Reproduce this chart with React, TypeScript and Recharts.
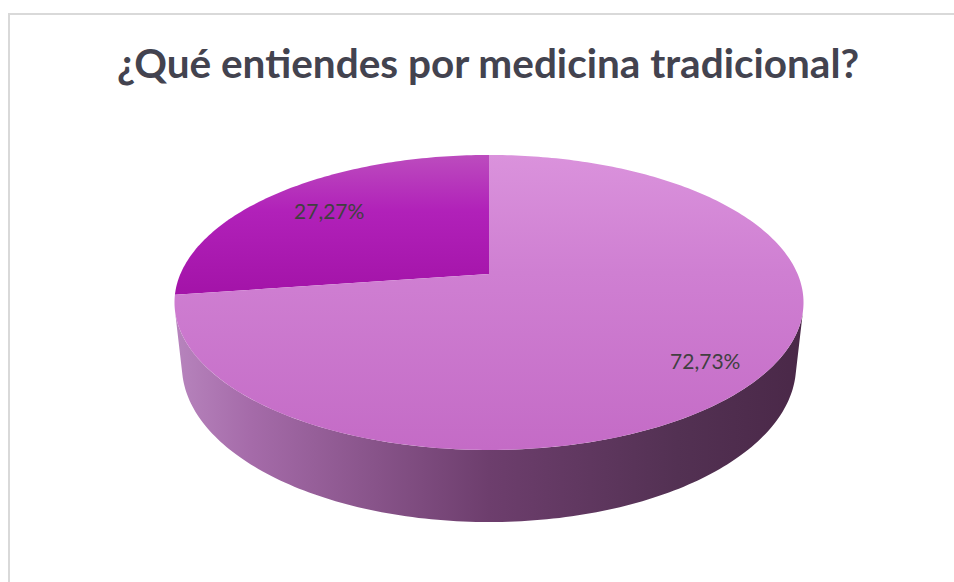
import { PieChart, Pie } from 'recharts';

const categories = ['Opción 1', 'Opción 2'];
const values = [27.27, 72.73];
const title = '¿Qué entiendes por medicina tradicional?';

const data = categories.map((name, i) => ({ name, value: values[i] }));

// simple perspective camera for the 3D look
const DIST = 4.6;
const TILT = (27.4 * Math.PI) / 180;
const DEPTH = 0.2334;
const RAD = Math.PI / 180;

const project = (cx: number, cy: number, r: number, u: number, v: number, z: number) => {
    const d = DIST + v * Math.cos(TILT) - z * Math.sin(TILT);
    const x = (r * DIST * u) / d;
    const y = (r * DIST * (v * Math.sin(TILT) + z * Math.cos(TILT))) / d;
    return [cx + x, cy - y];
};

const rimPoint = (cx: number, cy: number, r: number, deg: number, z: number, f = 1) =>
    project(cx, cy, r, f * Math.cos(deg * RAD), f * Math.sin(deg * RAD), z);

const topFill = [
    ['#bc4cbe', '#b121b9', '#a313a8'],
    ['#da92dc', '#cf7fd2', '#c46bc6'],
];

const fmt = (p: number[]) => `${p[0].toFixed(2)},${p[1].toFixed(2)}`;

const Slice3D = (props: any) => {
    const { cx, cy, outerRadius, startAngle, endAngle, name } = props;
    const idx = categories.indexOf(name);
    const a = Math.min(startAngle, endAngle);
    const b = Math.max(startAngle, endAngle);

    // top face
    const pts: string[] = [fmt([cx, cy])];
    const steps = Math.max(2, Math.ceil(b - a));
    for (let i = 0; i <= steps; i++) {
        pts.push(fmt(rimPoint(cx, cy, outerRadius, a + ((b - a) * i) / steps, 0)));
    }

    // visible side (front facing part of the rim)
    const lim = Math.asin(1 / (DIST * Math.cos(TILT))) / RAD;
    const sides: string[] = [];
    for (const off of [-360, 0, 360]) {
        const s = Math.max(a, 180 + lim + off);
        const e = Math.min(b, 360 - lim + off);
        if (e <= s) continue;
        const n = Math.max(2, Math.ceil(e - s));
        const top: string[] = [];
        const bot: string[] = [];
        for (let i = 0; i <= n; i++) {
            const deg = s + ((e - s) * i) / n;
            top.push(fmt(rimPoint(cx, cy, outerRadius, deg, 0)));
            bot.unshift(fmt(rimPoint(cx, cy, outerRadius, deg, -DEPTH)));
        }
        sides.push(`M${top.join('L')}L${bot.join('L')}Z`);
    }

    const colors = topFill[idx] || topFill[1];
    return (
        <g>
            <defs>
                <linearGradient id={`top-${idx}`} x1="0" y1="0" x2="0" y2="1">
                    <stop offset="0" stopColor={colors[0]} />
                    <stop offset="0.4" stopColor={colors[1]} />
                    <stop offset="1" stopColor={colors[2]} />
                </linearGradient>
                <linearGradient id={`side-${idx}`} x1="0" y1="0" x2="1" y2="0">
                    <stop offset="0" stopColor="#b784bd" />
                    <stop offset="0.12" stopColor="#a56ba9" />
                    <stop offset="0.5" stopColor="#6d3e6d" />
                    <stop offset="0.8" stopColor="#533153" />
                    <stop offset="1" stopColor="#4a2848" />
                </linearGradient>
            </defs>
            {sides.map((d, i) => (
                <path key={i} d={d} fill={`url(#side-${idx})`} />
            ))}
            <path d={`M${pts.join('L')}Z`} fill={`url(#top-${idx})`} />
        </g>
    );
};

const renderLabel = (props: any) => {
    const { cx, cy, outerRadius, startAngle, endAngle, value, index } = props;
    const mid = (startAngle + endAngle) / 2;
    const f = index === 0 ? 0.75 : 0.83;
    const [x, y] = rimPoint(cx, cy, outerRadius, mid, 0, f);
    return (
        <text
            x={x}
            y={y}
            textAnchor="middle"
            dominantBaseline="central"
            fill="#404040"
            fontSize={21}
            fontFamily="Lato, sans-serif"
        >
            {`${Number(value).toFixed(2).replace('.', ',')}%`}
        </text>
    );
};

export default function App() {
    return (
        <div style={{ position: 'absolute', left: 0, top: 0, width: 954, height: 582, background: '#fff', overflow: 'hidden' }}>
            <div
                style={{
                    position: 'absolute',
                    left: 8,
                    top: 13,
                    width: 980,
                    height: 620,
                    border: '2px solid #d9d9d9',
                    boxSizing: 'border-box',
                }}
            />
            <div
                style={{
                    position: 'absolute',
                    left: 0,
                    top: 38,
                    width: 976,
                    textAlign: 'center',
                    fontFamily: 'Lato, sans-serif',
                    fontWeight: 700,
                    fontSize: 40.5,
                    lineHeight: '50px',
                    color: '#43434f',
                }}
            >
                {title}
            </div>
            <div style={{ position: 'absolute', left: 0, top: 0 }}>
                <PieChart width={954} height={582} margin={{ top: 0, right: 0, bottom: 0, left: 0 }}>
                    <Pie
                        data={data}
                        dataKey="value"
                        nameKey="name"
                        cx={489}
                        cy={274}
                        outerRadius={308.6}
                        startAngle={90}
                        endAngle={450}
                        stroke="none"
                        shape={Slice3D}
                        label={renderLabel}
                        labelLine={false}
                        isAnimationActive={false}
                    />
                </PieChart>
            </div>
        </div>
    );
}
